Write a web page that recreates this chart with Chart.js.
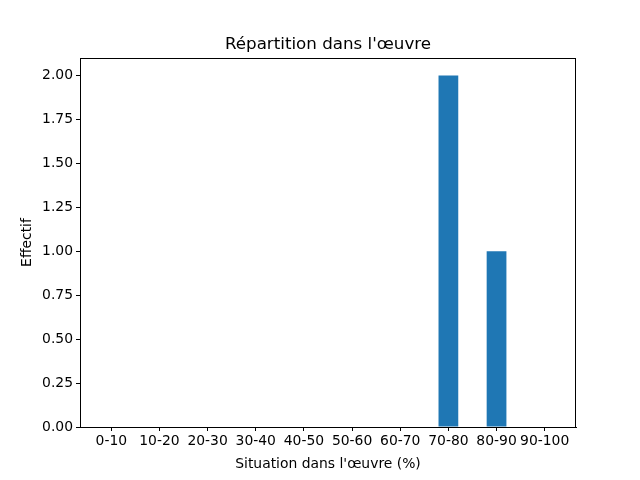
<!DOCTYPE html>
<html lang="fr">
<head>
  <meta charset="UTF-8">
  <title>Répartition dans l'œuvre</title>
  <style>
    body { margin: 0; padding: 0; background: #ffffff; }
    #wrap { width: 640px; height: 480px; }
  </style>
</head>
<body>
  <div id="wrap"><canvas id="chart" width="640" height="480"></canvas></div>
  <script src="https://cdn.jsdelivr.net/npm/chart.js"></script>
  <script>
    // Données
    const tranches = ['0-10', '10-20', '20-30', '30-40', '40-50', '50-60', '60-70', '70-80', '80-90', '90-100'];
    const effectifs = [0, 0, 0, 0, 0, 0, 0, 2, 1, 0];
    const yTicks = [0, 0.25, 0.5, 0.75, 1.0, 1.25, 1.5, 1.75, 2.0];

    const FONT = 'DejaVu Sans';

    // cadre complet autour de la zone de tracé (comme matplotlib)
    const frame = {
      id: 'frame',
      afterDraw(chart) {
        const a = chart.chartArea;
        const c = chart.ctx;
        c.save();
        c.strokeStyle = '#000';
        c.lineWidth = 1;
        c.strokeRect(Math.round(a.left) + 0.5, Math.round(a.top) + 0.5,
          Math.round(a.right - a.left) - 1, Math.round(a.bottom - a.top));
        c.restore();
      }
    };

    const points = effectifs.map((v, i) => ({ x: i, y: v }));

    new Chart(document.getElementById('chart'), {
      type: 'bar',
      data: {
        datasets: [{
          data: points,
          backgroundColor: '#1f77b4',
          borderColor: '#1f77b4',
          borderWidth: 0,
          inflateAmount: 0,
          barPercentage: 0.41,
          categoryPercentage: 1
        }]
      },
      options: {
        responsive: false,
        animation: false,
        layout: { padding: { left: 16, right: 0, top: 0, bottom: 0 } },
        plugins: {
          legend: { display: false },
          tooltip: { enabled: false },
          title: {
            display: true,
            text: "Répartition dans l'œuvre",
            color: '#000',
            font: { family: FONT, size: 16.7, weight: 'normal' },
            padding: { top: 35, bottom: 3 }
          }
        },
        scales: {
          x: {
            type: 'linear',
            offset: false,
            min: -0.65,
            max: 9.65,
            afterFit(s) { s.height = 53; },
            afterBuildTicks(s) { s.ticks = tranches.map((t, i) => ({ value: i })); },
            ticks: {
              stepSize: 1,
              includeBounds: false,
              autoSkip: false,
              maxRotation: 0,
              padding: 2,
              color: '#000',
              font: { family: FONT, size: 13.9 },
              callback: (v) => tranches[v]
            },
            grid: { drawOnChartArea: false, offset: false, tickLength: 4, color: '#000' },
            border: { color: '#000' },
            title: {
              display: true,
              text: "Situation dans l'œuvre (%)",
              color: '#000',
              font: { family: FONT, size: 13.9 },
              padding: { top: 3, bottom: 7 }
            }
          },
          y: {
            min: 0,
            max: 2.1,
            afterFit(s) { s.width = 64; },
            afterBuildTicks(s) { s.ticks = yTicks.map(v => ({ value: v })); },
            ticks: {
              includeBounds: false,
              padding: 3,
              color: '#000',
              font: { family: FONT, size: 13.9 },
              callback: (v) => Number(v).toFixed(2)
            },
            grid: { drawOnChartArea: false, tickLength: 4, color: '#000' },
            border: { color: '#000' },
            title: {
              display: true,
              text: 'Effectif',
              color: '#000',
              font: { family: FONT, size: 13.9 },
              padding: { top: 3, bottom: 0 }
            }
          },
          // marge droite vide, comme dans la figure d'origine
          droite: {
            position: 'right',
            afterFit(s) { s.width = 64; },
            ticks: { display: false },
            grid: { display: false },
            border: { display: false }
          }
        }
      },
      plugins: [frame]
    });
  </script>
</body>
</html>
